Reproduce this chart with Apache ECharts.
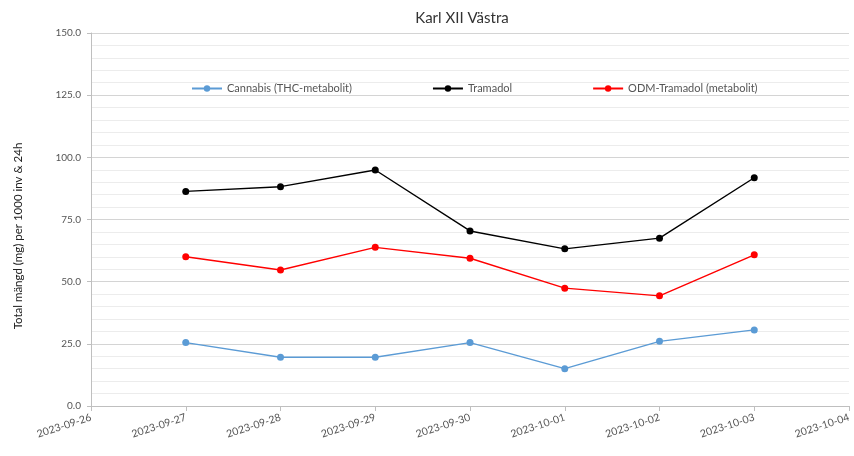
<!DOCTYPE html>
<html>
<head>
<meta charset="utf-8">
<script src="https://cdn.jsdelivr.net/npm/echarts@6/dist/echarts.min.js"></script>
<style>
  html, body { margin: 0; padding: 0; background: #fff; }
  #chart { width: 854px; height: 456px; }
</style>
</head>
<body>
<div id="chart"></div>
<script>
// Sampling days (first and last are empty axis padding days)
const dates = ['2023-09-26', '2023-09-27', '2023-09-28', '2023-09-29', '2023-09-30',
               '2023-10-01', '2023-10-02', '2023-10-03', '2023-10-04'];

// Daily load, mg per 1000 inhabitants and 24 h
const cannabis = [null, 25.5, 19.6, 19.6, 25.5, 15.0, 26.0, 30.6, null];
const tramadol = [null, 86.3, 88.2, 94.9, 70.4, 63.2, 67.5, 91.8, null];
const odmTramadol = [null, 60.0, 54.7, 63.8, 59.4, 47.4, 44.3, 60.8, null];

const seriesNames = ['Cannabis (THC-metabolit)', 'Tramadol', 'ODM-Tramadol (metabolit)'];
const seriesColors = ['#5b9bd5', '#000000', '#ff0000'];
const seriesValues = [cannabis, tramadol, odmTramadol];

const yTitle = 'Total mängd (mg) per 1000 inv & 24h';

const chart = echarts.init(document.getElementById('chart'), null, { renderer: 'canvas' });

const font = 'Lato, "Liberation Sans", sans-serif';

chart.setOption({
  backgroundColor: '#ffffff',
  animation: false,
  title: {
    text: 'Karl XII Västra',
    left: 457,
    textAlign: 'center',
    top: 6,
    textStyle: { fontFamily: font, fontSize: 15, fontWeight: 'normal', color: '#333333' }
  },
  legend: {
    left: 186,
    top: 78,
    itemGap: 80,
    itemWidth: 30,
    itemHeight: 8,
    textStyle: { fontFamily: font, fontSize: 11, color: '#555555' },
    data: seriesNames
  },
  graphic: [{
    type: 'text',
    x: 18,
    y: 236,
    rotation: Math.PI / 2,
    style: {
      text: yTitle,
      fontFamily: font,
      fontSize: 11.5,
      fill: '#222222',
      align: 'center',
      verticalAlign: 'middle'
    }
  }],
  grid: { left: 91, right: 5, top: 33, bottom: 50 },
  xAxis: {
    type: 'category',
    data: dates,
    boundaryGap: false,
    axisLine: { lineStyle: { color: '#bfbfbf' } },
    axisTick: { show: true, length: 5, lineStyle: { color: '#bfbfbf' } },
    axisLabel: {
      rotate: 18,
      margin: 11,
      fontFamily: font,
      fontSize: 10.5,
      color: '#555555'
    },
    splitLine: { show: false }
  },
  yAxis: {
    type: 'value',
    min: 0,
    max: 150,
    interval: 25,
    axisLine: { show: true, lineStyle: { color: '#bfbfbf' } },
    axisTick: { show: true, length: 4, lineStyle: { color: '#bfbfbf' } },
    axisLabel: {
      fontFamily: font,
      fontSize: 10,
      color: '#555555',
      margin: 10,
      formatter: v => v.toFixed(1)
    },
    splitLine: { show: true, lineStyle: { color: '#d4d4d4', width: 1 } },
    minorTick: { show: false, splitNumber: 5 },
    minorSplitLine: { show: true, lineStyle: { color: '#ececec', width: 1 } }
  },
  series: seriesNames.map((name, i) => ({
    name: name,
    type: 'line',
    data: seriesValues[i],
    symbol: 'circle',
    symbolSize: 7,
    connectNulls: false,
    itemStyle: { color: seriesColors[i] },
    lineStyle: { color: seriesColors[i], width: 1.4 }
  }))
});
</script>
</body>
</html>
